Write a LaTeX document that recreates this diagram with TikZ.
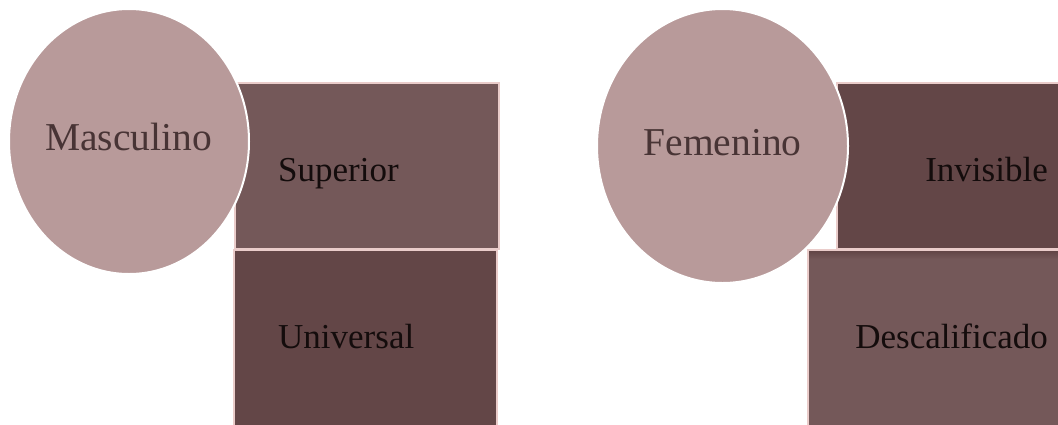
\documentclass[tikz,border=0pt]{standalone}
\usepackage{fontspec}
\setmainfont{Liberation Serif}
\definecolor{circfill}{RGB}{184,154,154}
\definecolor{boxlight}{RGB}{116,88,89}
\definecolor{boxdark}{RGB}{99,70,71}
\definecolor{boxedge}{RGB}{234,204,202}
\definecolor{circtext}{RGB}{72,52,53}
\definecolor{boxtext}{RGB}{20,12,12}
\tikzset{
  box/.style={draw=boxedge, line width=1.6pt},
  circ/.style={draw=white, line width=2pt, fill=circfill},
  circlabel/.style={text=circtext, font=\fontsize{39.5}{44}\selectfont, inner sep=0pt},
  boxlabel/.style={text=boxtext, font=\fontsize{35}{40}\selectfont, inner sep=0pt}
}
\begin{document}
\begin{tikzpicture}[x=1pt,y=-1pt]
\useasboundingbox (0,0) rectangle (1058,424);
% left group
\path[box, fill=boxlight] (235,83) rectangle (499,249);
\path[box, fill=boxdark] (234,250) rectangle (497,430);
\path[circ] (129,141.5) ellipse [x radius=120, y radius=132.5];
\node[circlabel, anchor=base] (masc) at (128.5,150) {Masculino};
\node[boxlabel, anchor=base west] (sup) at (278,181) {Superior};
\node[boxlabel, anchor=base west] (uni) at (278,348) {Universal};
% right group
\path[box, fill=boxdark] (837,83) rectangle (1065,249);
\path[box, fill=boxlight] (808,250) rectangle (1065,430);
\shade[top color=boxdark, bottom color=boxlight] (809,251) rectangle (1060,259);
\path[circ] (722.5,146) ellipse [x radius=125.5, y radius=137];
\node[circlabel, anchor=base] (fem) at (722.5,155) {Femenino};
\node[boxlabel, anchor=base east] (inv) at (1048,181) {Invisible};
\node[boxlabel, anchor=base east] (desc) at (1048,348) {Descalificado};
\end{tikzpicture}
\end{document}
